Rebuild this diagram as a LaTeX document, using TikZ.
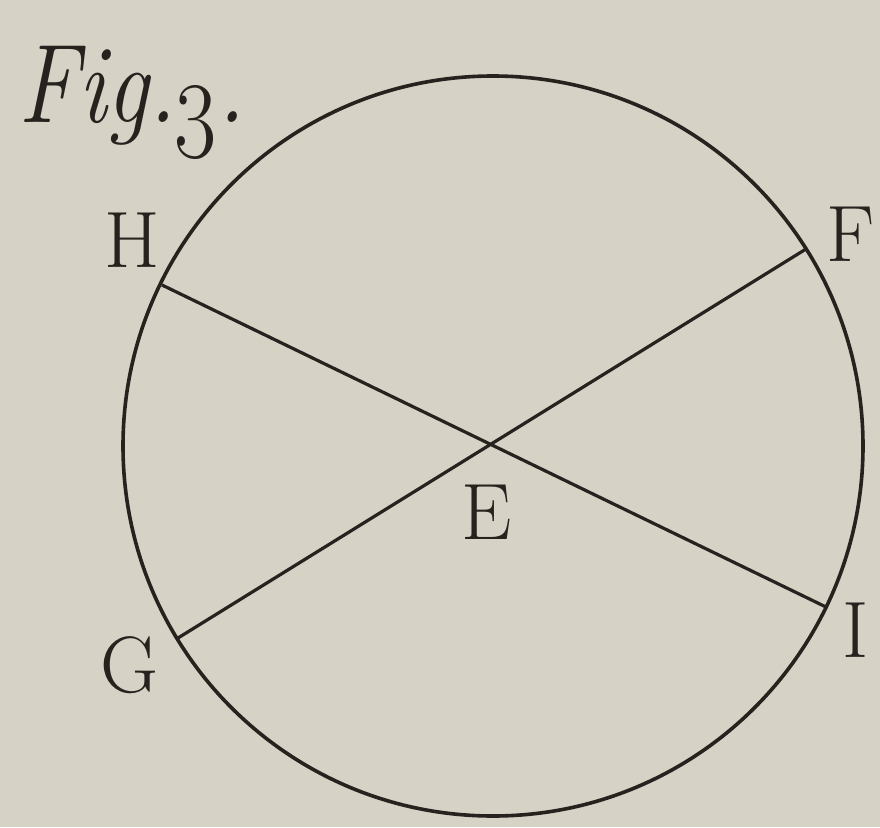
\RequirePackage{fix-cm}
\documentclass[tikz,border=0pt]{standalone}
\definecolor{paper}{RGB}{214,210,198}
\definecolor{ink}{RGB}{38,34,30}
\begin{document}
\begin{tikzpicture}[x=1pt,y=-1pt,
  lbl/.style={text=ink,font=\fontsize{80}{80}\selectfont,inner sep=0pt},
  stroke/.style={draw=ink,line width=3.6pt}]
\fill[paper] (0,0) rectangle (880,827);
\useasboundingbox (0,0) rectangle (880,827);
\node[stroke,circle,minimum size=740pt,inner sep=0pt] (C) at (493,446) {};
\coordinate (H) at (162,285);
\coordinate (I) at (826,607);
\coordinate (G) at (178,638);
\coordinate (F) at (806,249);
\coordinate (E) at (491,445);
\draw[draw=ink,line width=3.2pt] (H) -- (I);
\draw[draw=ink,line width=3.2pt] (G) -- (F);
\node[lbl] (lH) at (132,240) {H};
\node[lbl] (lF) at (851,234) {F};
\node[lbl] (lE) at (487,512) {E};
\node[lbl] (lG) at (130,665) {G};
\node[lbl] (lI) at (856,630) {I};
\node[text=ink,inner sep=0pt,anchor=base west,xscale=0.84,font=\fontsize{112}{112}\selectfont\itshape] (fig) at (18,122) {Fig.\kern-0.04em\raisebox{-0.12em}{\oldstylenums{3}}.};
\end{tikzpicture}
\end{document}
